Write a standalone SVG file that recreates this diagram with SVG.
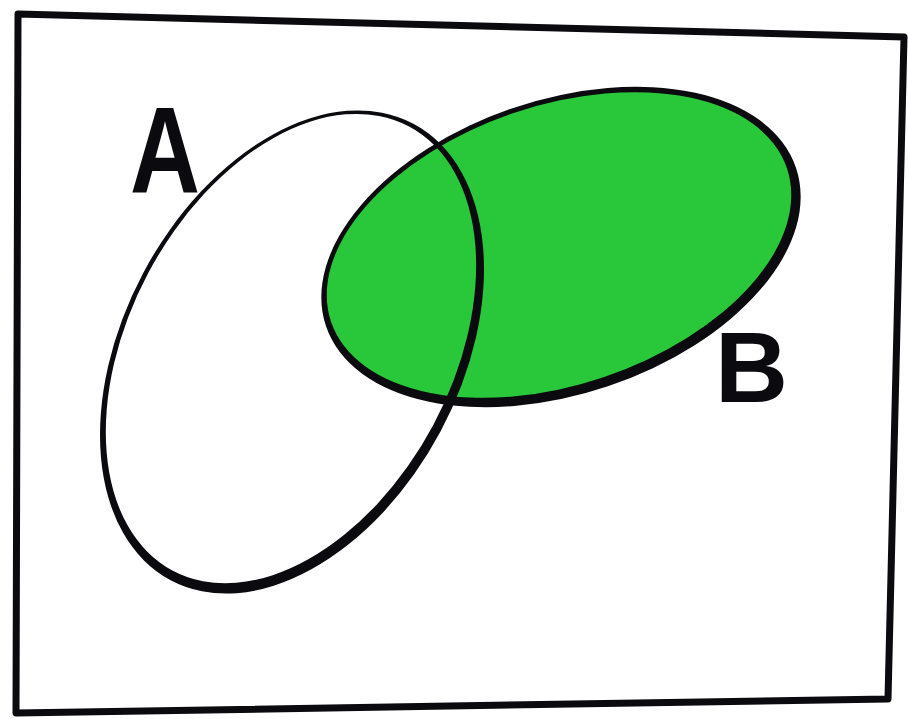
<svg xmlns="http://www.w3.org/2000/svg" width="908" height="719" viewBox="0 0 908 719">
<style>
.ink{fill:#0a0a0f}
.label{font-family:"Liberation Sans",Arial,sans-serif;font-weight:bold;fill:#0a0a0f}
</style>
<rect width="908" height="719" fill="#ffffff"/>
<g id="frame">
<polygon points="18,14 904,37 888,699 16,713" fill="none" stroke="#0a0a0f" stroke-width="7" stroke-linejoin="round"/>
</g>
<g id="setB" transform="translate(561,247) rotate(-18.6)">
<ellipse cx="0" cy="0" rx="246" ry="145" fill="#29c83b"/>
<path class="ink" fill-rule="evenodd" d="M-248,0 a248,147 0 1,0 496,0 a248,147 0 1,0 -496,0 Z M-241.76,-2.53 a240.5,139.5 0 1,0 481,0 a240.5,139.5 0 1,0 -481,0 Z"/>
</g>
<g id="setA" transform="translate(292,352) rotate(28)">
<path class="ink" fill-rule="evenodd" d="M-168.5,0 a168.5,258.5 0 1,0 337,0 a168.5,258.5 0 1,0 -337,0 Z M-164,-2.5 a161.5,251.5 0 1,0 323,0 a161.5,251.5 0 1,0 -323,0 Z"/>
</g>
<g id="labelA">
<text class="label" x="130" y="193" font-size="123" textLength="70" lengthAdjust="spacingAndGlyphs">A</text>
</g>
<g id="labelB">
<text class="label" x="715" y="402" font-size="100" textLength="73" lengthAdjust="spacingAndGlyphs">B</text>
</g>
<g id="connectors"/>
</svg>
